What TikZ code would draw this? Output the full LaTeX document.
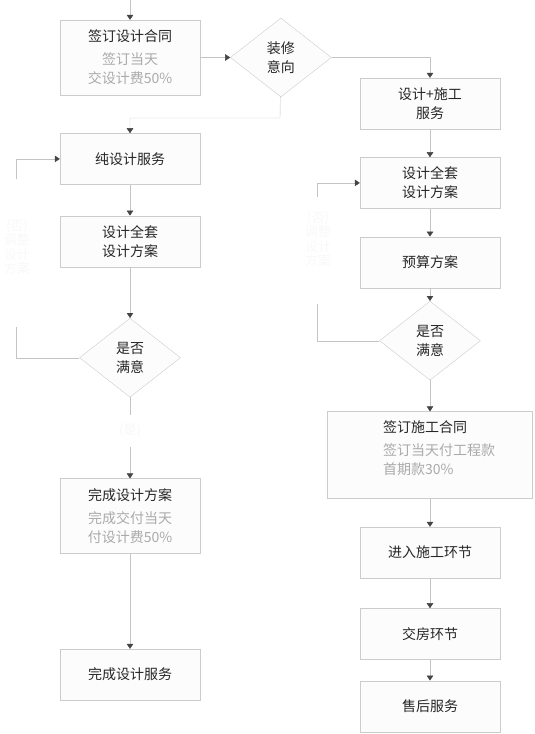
\documentclass[tikz,border=0pt]{standalone}
\usepackage{fontspec}
\setmainfont{Noto Sans CJK SC}
\usepackage{tikz}
\usetikzlibrary{positioning,arrows.meta,shapes.geometric}
\definecolor{linegray}{HTML}{C4C4C4}
\definecolor{boxgray}{HTML}{CCCCCC}
\definecolor{boxfill}{HTML}{FCFCFC}
\definecolor{tipgray}{HTML}{444444}
\definecolor{subgray}{HTML}{AAAAAA}
\definecolor{ghost}{HTML}{F8F8F8}

\begin{document}
\begin{tikzpicture}[x=1pt,y=-1pt,font=\fontsize{14}{19}\selectfont,
  box/.style={draw=boxgray,fill=boxfill,minimum width=140pt,minimum height=51pt,align=center,inner sep=0pt,text=black!85},
  tallbox/.style={box,minimum height=75pt},
  choice/.style={diamond,draw=boxgray,fill=boxfill,minimum width=101pt,minimum height=79pt,inner sep=0pt,align=center,text=black!85},
  ghostlbl/.style={text=ghost,font=\fontsize{13}{14.5}\selectfont,align=center},
  line/.style={draw=linegray},
  arr/.style={line,-{Triangle[length=5pt,width=6.5pt,color=tipgray]}}]
\useasboundingbox (0,0) rectangle (535,734);
% left column: design only
\coordinate (top) at (130,0);
\node[tallbox] (b1) at (130,57.5) {签订设计合同\\[4pt]\color{subgray}签订当天\\\color{subgray}交设计费50\%};
\node[choice,right=30pt of b1] (q1) {装修\\意向};
\node[box,below=38pt of b1] (b2) {纯设计服务};
\node[box,below=31pt of b2] (b3) {设计全套\\设计方案};
\node[choice,below=51pt of b3] (q2) {是否\\满意};
\node[tallbox,below=81pt of q2] (b4) {完成设计方案\\[4pt]\color{subgray}完成交付当天\\\color{subgray}付设计费50\%};
\node[box,below=95pt of b4] (b5) {完成设计服务};
% right column: design + build
\node[box] (r1) at (430,103.5) {设计+施工\\服务};
\node[box,below=28pt of r1] (r2) {设计全套\\设计方案};
\node[box,below=28pt of r2] (r3) {预算方案};
\node[choice,below=13pt of r3] (q3) {是否\\满意};
\node[box,minimum width=205pt,minimum height=87pt,below=31pt of q3] (r5) {};
\node[align=left,text=black!85] (r5t) at ([xshift=9pt,yshift=6.5pt]r5.center) {签订施工合同\\[4pt]\color{subgray}签订当天付工程款\\\color{subgray}首期款30\%};
\node[box,below=28pt of r5] (r6) {进入施工环节};
\node[box,below=30pt of r6] (r7) {交房环节};
\node[box,below=21pt of r7] (r8) {售后服务};
% faint loop labels
\node[ghostlbl] (gl) at (17,247) {(否)\\调整\\设计\\方案};
\node[ghostlbl] (gr) at (318,239) {(否)\\调整\\设计\\方案};
\coordinate (k1) at (280,118);
\coordinate (lf1) at (16,327); \coordinate (lf2) at (16,179);
\coordinate (rf1) at (317,304); \coordinate (rf2) at (317,197);
\draw[arr] (top)--(b1); \draw[arr] (b1)--(q1);
\draw[arr] (q1)--(k1)-|(b2);
\draw[arr] (q1)-|(r1);
\draw[arr] (b2)--(b3); \draw[arr] (b3)--(q2);
\draw[arr] (q2)--node[ghostlbl,pos=0.41,fill=white,minimum height=32pt,inner sep=0pt]{(是)}(b4);
\draw[arr] (b4)--(b5);
\draw[line] (q2)-|(lf1); \draw[arr] (lf2)|-(b2);
\draw[arr] (r1)--(r2); \draw[arr] (r2)--(r3); \draw[arr] (r3)--(q3); \draw[arr] (q3)--(r5);
\draw[arr] (r5)--(r6); \draw[arr] (r6)--(r7); \draw[arr] (r7)--(r8);
\draw[line] (q3)-|(rf1); \draw[arr] (rf2)|-(r2);
\end{tikzpicture}
\end{document}
